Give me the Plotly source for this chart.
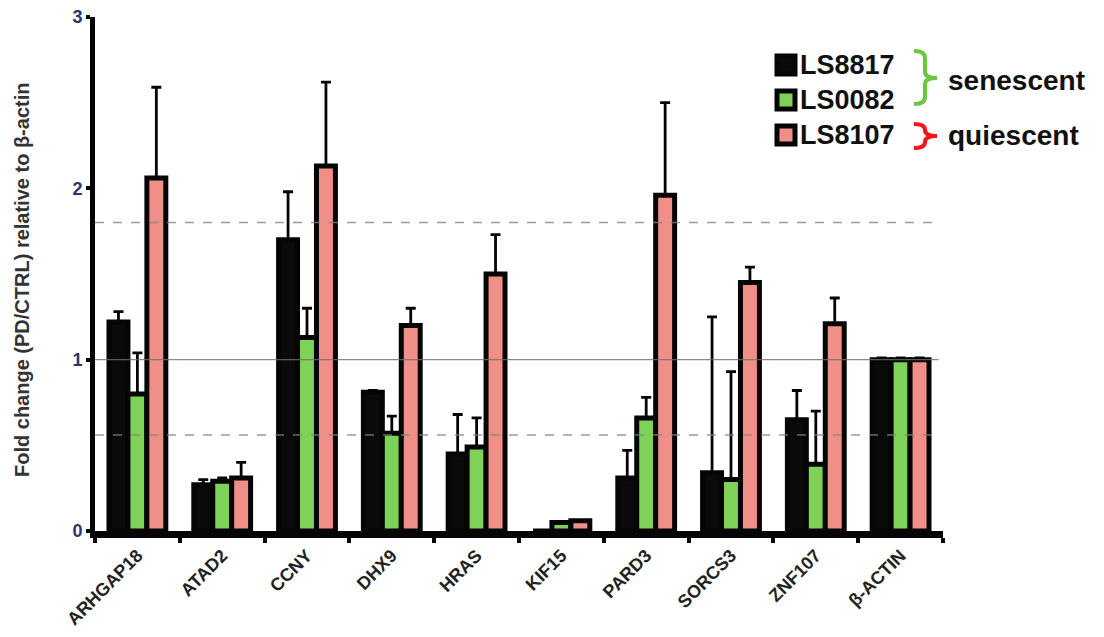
import plotly.graph_objects as go

categories = ["ARHGAP18", "ATAD2", "CCNY", "DHX9", "HRAS", "KIF15", "PARD3", "SORCS3", "ZNF107", "β-ACTIN"]
ls8817 = [1.22, 0.27, 1.70, 0.81, 0.45, 0.0, 0.31, 0.34, 0.65, 1.0]
ls8817_err = [0.06, 0.03, 0.28, 0.01, 0.23, 0.0, 0.16, 0.91, 0.17, 0.01]
ls0082 = [0.80, 0.29, 1.13, 0.57, 0.49, 0.05, 0.66, 0.30, 0.39, 1.0]
ls0082_err = [0.24, 0.02, 0.17, 0.10, 0.17, 0.0, 0.12, 0.63, 0.31, 0.01]
ls8107 = [2.06, 0.31, 2.13, 1.20, 1.50, 0.06, 1.96, 1.45, 1.21, 1.0]
ls8107_err = [0.53, 0.09, 0.49, 0.10, 0.23, 0.0, 0.54, 0.09, 0.15, 0.01]
series_names = ["LS8817", "LS0082", "LS8107"]
series_colors = ["#0a0a0a", "#7ED257", "#EF8F88"]
ref_solid = 1.0
ref_dashed = [1.8, 0.56]

# page body has an 8px margin; plot area wanted at page px x 95..943, y 17..531
OFF = 8
W, H = 1104, 637
L, T = 95 - OFF, 17 - OFF
R = W - (943 - OFF)
B = H - (531 - OFF)
PW, PH = W - L - R, H - T - B


def px(x):
    return (x - OFF - L) / PW


def py(y):
    return (H - B - (y - OFF)) / PH


FONT = "Arial, Liberation Sans, sans-serif"

fig = go.Figure()
for name, vals, errs, col in zip(series_names, [ls8817, ls0082, ls8107],
                                 [ls8817_err, ls0082_err, ls8107_err], series_colors):
    fig.add_trace(go.Bar(
        x=categories, y=vals, name=name,
        marker=dict(color=col, line=dict(color="#050505", width=5)),
        error_y=dict(type="data", array=errs, arrayminus=[0] * len(errs), symmetric=False,
                     color="#050505", thickness=2.8, width=5),
        showlegend=False,
    ))

shapes = [
    dict(type="line", xref="paper", yref="y", x0=0, x1=0.995, y0=ref_solid, y1=ref_solid,
         line=dict(color="rgba(110,110,110,0.8)", width=1.2), layer="above"),
]
for d in ref_dashed:
    shapes.append(dict(type="line", xref="paper", yref="y", x0=0, x1=0.99, y0=d, y1=d,
                       line=dict(color="rgba(130,130,130,0.8)", width=1.5, dash="dash"), layer="above"))

# legend squares
leg_y = [65, 100, 135]
for yy, col in zip(leg_y, series_colors):
    shapes.append(dict(type="rect", xref="paper", yref="paper",
                       x0=px(777), x1=px(795), y0=py(yy - 9), y1=py(yy + 9),
                       fillcolor=col, line=dict(color="#050505", width=5)))


def path(points):
    s = ""
    for cmd, pts in points:
        s += cmd + " " + " ".join(f"{px(a):.5f},{py(b):.5f}" for a, b in pts) + " "
    return s.strip()


# green bracket
gb = path([("M", [(914, 51)]), ("Q", [(925, 51), (925, 58)]), ("L", [(925, 72)]),
           ("Q", [(925, 78), (937, 78)]), ("Q", [(925, 78), (925, 84)]), ("L", [(925, 97)]),
           ("Q", [(925, 104), (914, 104)])])
shapes.append(dict(type="path", xref="paper", yref="paper", path=gb,
                   line=dict(color="#6CC644", width=4)))
rb = path([("M", [(914, 124)]), ("Q", [(925, 124), (925, 130)]),
           ("Q", [(925, 136), (937, 136)]), ("Q", [(925, 136), (925, 142)]),
           ("Q", [(925, 148), (914, 148)])])
shapes.append(dict(type="path", xref="paper", yref="paper", path=rb,
                   line=dict(color="#F01818", width=4)))

annotations = []
for yy, name in zip(leg_y, series_names):
    annotations.append(dict(xref="paper", yref="paper", x=px(798), y=py(yy), text=f"<b>{name}</b>",
                            showarrow=False, xanchor="left", yanchor="middle",
                            font=dict(family=FONT, size=27, color="#111")))
annotations.append(dict(xref="paper", yref="paper", x=px(946), y=py(80), text="<b>senescent</b>",
                        showarrow=False, xanchor="left", yanchor="middle",
                        font=dict(family=FONT, size=28, color="#111")))
annotations.append(dict(xref="paper", yref="paper", x=px(946), y=py(136), text="<b>quiescent</b>",
                        showarrow=False, xanchor="left", yanchor="middle",
                        font=dict(family=FONT, size=28, color="#111")))
annotations.append(dict(xref="paper", yref="paper", x=px(22), y=py(280),
                        text="<b>Fold change (PD/CTRL) relative to β-actin</b>", textangle=-90,
                        showarrow=False, xanchor="center", yanchor="middle",
                        font=dict(family=FONT, size=20, color="#333")))

fig.update_layout(
    width=W, height=H, margin=dict(l=L, r=R, t=T, b=B, autoexpand=False),
    paper_bgcolor="white", plot_bgcolor="white",
    barmode="group", bargap=0.33, bargroupgap=0,
    shapes=shapes, annotations=annotations,
    xaxis=dict(range=[-0.5, 9.5], showline=True, linecolor="#050505", linewidth=7,
               ticks="outside", tickson="boundaries", ticklen=5, tickwidth=4, tickcolor="#050505",
               tickangle=-45, automargin=False, ticklabeloverflow="allow",
               tickfont=dict(family=FONT, size=18, color="#222", weight="bold"),
               showgrid=False, zeroline=False),
    yaxis=dict(range=[0, 3], tickvals=[0, 1, 2, 3], showline=True, linecolor="#050505", linewidth=5,
               ticks="outside", ticklen=4, tickwidth=4, tickcolor="#050505", automargin=False,
               ticklabeloverflow="allow",
               tickfont=dict(family=FONT, size=18, color="#2b3566", weight="bold"),
               showgrid=False, zeroline=False),
)

fig.write_html("out.html")
